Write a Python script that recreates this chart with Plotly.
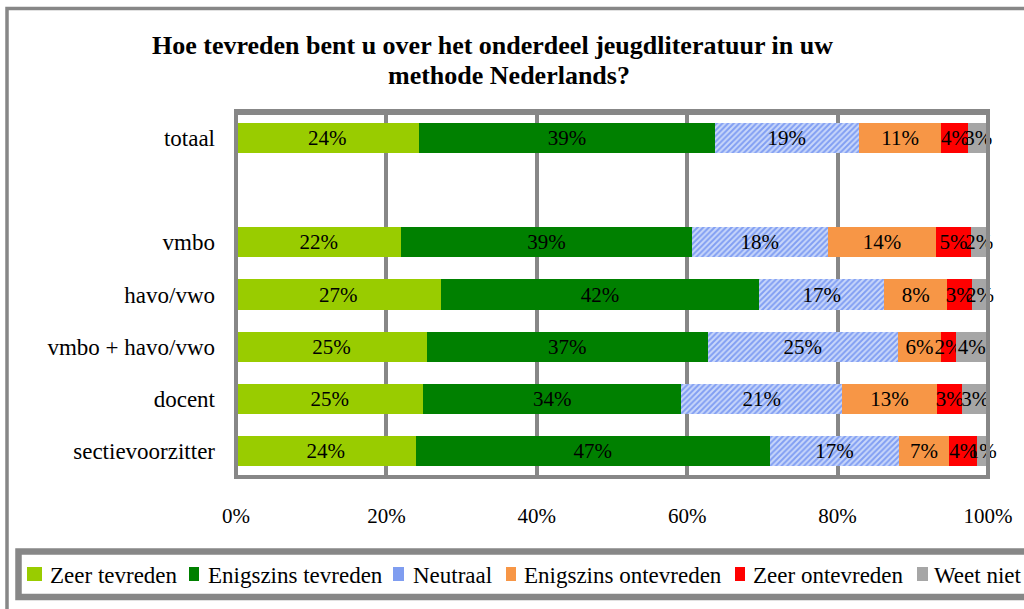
import plotly.graph_objects as go

# ---- data ----
categories = ["totaal", " ", "vmbo", "havo/vwo", "vmbo + havo/vwo", "docent", "sectievoorzitter"]
series_names = ["Zeer tevreden", "Enigszins tevreden", "Neutraal",
                "Enigszins ontevreden", "Zeer ontevreden", "Weet niet"]
zeer_tevreden = [24.3, None, 22.0, 27.2, 25.4, 24.9, 23.9]
enigszins_tevreden = [39.4, None, 38.6, 42.4, 37.3, 34.3, 47.1]
neutraal = [19.1, None, 18.1, 16.6, 25.3, 21.4, 17.2]
enigszins_ontevreden = [11.0, None, 14.4, 8.4, 5.8, 12.6, 6.6]
zeer_ontevreden = [3.6, None, 4.6, 3.3, 1.9, 3.4, 3.8]
weet_niet = [2.6, None, 2.3, 2.1, 4.3, 3.4, 1.4]
x_tick_values = [0, 20, 40, 60, 80, 100]
x_tick_labels = ["0%", "20%", "40%", "60%", "80%", "100%"]
title_line1 = "Hoe tevreden bent u over het onderdeel jeugdliteratuur in uw"
title_line2 = "methode Nederlands?"

series_values = [zeer_tevreden, enigszins_tevreden, neutraal,
                 enigszins_ontevreden, zeer_ontevreden, weet_niet]

# ---- styles ----
FONT = "Liberation Serif"
GRAY = "#878787"
colors = ["#99CC00", "#008000", "#FFFFFF", "#F79646", "#FF0000", "#A6A6A6"]
legend_colors = ["#99CC00", "#008000", "#7F9DF0", "#F79646", "#FF0000", "#A6A6A6"]

W, H = 1024, 609
L, R, T, B = 236, 988, 112, 477  # plot area in pixels


def px(xp):
    return (xp - L) / (R - L)


def py(yp):
    return (B - yp) / (B - T)


fig = go.Figure()
for name, vals, col in zip(series_names, series_values, colors):
    marker = dict(color=col, line=dict(width=0))
    if name == "Neutraal":
        marker = dict(color="#C9D7FA", line=dict(width=0),
                      pattern=dict(shape="/", fgcolor="#3A66EC", bgcolor="#C9D7FA",
                                   size=4, solidity=0.5))
    fig.add_trace(go.Bar(
        y=categories, x=vals, name=name, orientation="h",
        marker=marker,
        texttemplate="%{x:.0f}%", textposition="inside",
        insidetextanchor="middle", constraintext="none", textangle=0,
        textfont=dict(family=FONT, size=21, color="black"),
        cliponaxis=False, showlegend=False, hoverinfo="skip",
    ))

shapes = []
# outer chart frame
shapes.append(dict(type="rect", xref="paper", yref="paper",
                   x0=px(7), x1=px(1040), y0=py(8.5), y1=py(640),
                   line=dict(color=GRAY, width=3.5), fillcolor="rgba(0,0,0,0)", layer="below"))
# plot area frame
shapes.append(dict(type="rect", xref="paper", yref="paper", x0=0, x1=1, y0=0, y1=1,
                   line=dict(color=GRAY, width=4), fillcolor="rgba(0,0,0,0)", layer="above"))
shapes.append(dict(type="line", xref="paper", yref="paper", x0=px(L - 2), x1=px(R + 2),
                   y0=py(112), y1=py(112), line=dict(color=GRAY, width=6), layer="above"))
# legend box
shapes.append(dict(type="rect", xref="paper", yref="paper",
                   x0=px(18.5), x1=px(1060), y0=py(551.5), y1=py(597),
                   line=dict(color=GRAY, width=6.5), fillcolor="white", layer="above"))

legend_square_x = [(27, 42), (189, 199), (393, 404), (506, 516), (735, 745), (917, 928)]
legend_text_x = [48, 206, 411, 522, 751, 932]
annotations = []
for name, lc, (sx0, sx1), tx in zip(series_names, legend_colors, legend_square_x, legend_text_x):
    shapes.append(dict(type="rect", xref="paper", yref="paper",
                       x0=px(sx0), x1=px(sx1), y0=py(567), y1=py(581),
                       line=dict(width=0), fillcolor=lc, layer="above"))
    annotations.append(dict(text=name, xref="paper", yref="paper", x=px(tx), y=py(575),
                            xanchor="left", yanchor="middle", showarrow=False,
                            font=dict(family=FONT, size=23, color="black")))

# second title line
annotations.append(dict(text="<b>" + title_line2 + "</b>", xref="paper", yref="paper",
                        x=px(509), y=py(76), xanchor="center", yanchor="middle",
                        showarrow=False, font=dict(family=FONT, size=26, color="black")))

fig.update_layout(
    width=W, height=H,
    margin=dict(l=L, r=W - R, t=T, b=H - B, autoexpand=False),
    paper_bgcolor="white", plot_bgcolor="white",
    barmode="stack", bargap=0.42,
    title=dict(text="<b>" + title_line1 + "</b>", x=492.5 / W, xanchor="center",
               y=1 - 45 / H, yanchor="middle", xref="container", yref="container",
               font=dict(family=FONT, size=26, color="black")),
    font=dict(family=FONT, color="black"),
    shapes=shapes, annotations=annotations,
)
fig.update_xaxes(range=[0, 100], tickvals=x_tick_values, ticktext=x_tick_labels,
                 showgrid=True, gridcolor=GRAY, gridwidth=4, zeroline=False,
                 showline=False, ticks="", ticklabelstandoff=24,
                 tickfont=dict(family=FONT, size=21, color="black"), fixedrange=True)
fig.update_yaxes(type="category", categoryorder="array", categoryarray=categories,
                 range=[len(categories) - 0.5, -0.5], showgrid=False, zeroline=False,
                 showline=False, ticks="", ticklabelstandoff=20,
                 tickfont=dict(family=FONT, size=23, color="black"), fixedrange=True)

fig.write_html("out.html", config={"displayModeBar": False},
               post_script="document.body.style.margin='0';")
